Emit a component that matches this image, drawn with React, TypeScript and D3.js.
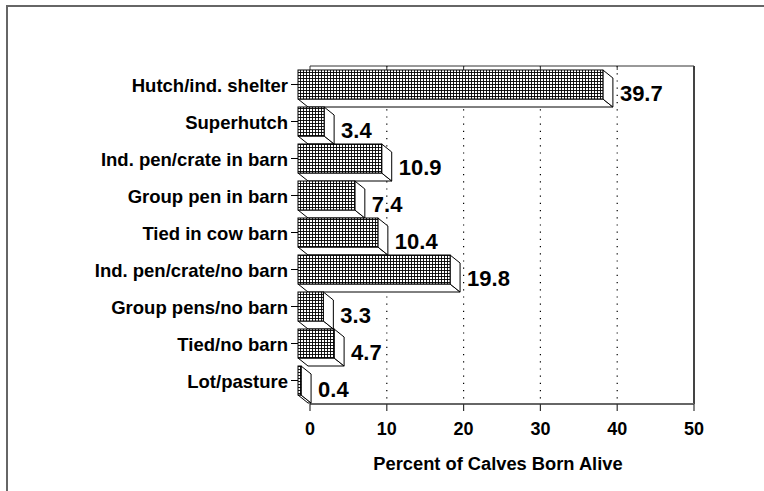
import * as d3 from 'd3';

const categories = [
  'Hutch/ind. shelter',
  'Superhutch',
  'Ind. pen/crate in barn',
  'Group pen in barn',
  'Tied in cow barn',
  'Ind. pen/crate/no barn',
  'Group pens/no barn',
  'Tied/no barn',
  'Lot/pasture',
];
const values = [39.7, 3.4, 10.9, 7.4, 10.4, 19.8, 3.3, 4.7, 0.4];
const xTicks = [0, 10, 20, 30, 40, 50];
const gridTicks = [10, 20, 30, 40];
const axisTitle = 'Percent of Calves Born Alive';

const W = 764;
const H = 491;
const PLOT = { left: 310, right: 694, top: 66, bottom: 404 };
const DX = 10; // depth of the 3d bars
const DY = 8;
const FRONT_SHIFT = -12;
const BAR_H = 29;
const FONT = 'Liberation Sans, Arial, Helvetica, sans-serif';

export default function App() {
  const x = d3.scaleLinear().domain([0, 50]).range([PLOT.left, PLOT.right]);
  const y = d3
    .scalePoint<string>()
    .domain(categories)
    .range([84.5, 380.5]);

  const x0 = x(0) + FRONT_SHIFT;

  return (
    <svg
      width={W}
      height={H}
      style={{ position: 'absolute', left: 0, top: 0, background: '#fff' }}
      fontFamily={FONT}
    >
      <defs>
        <pattern id="grid" width={3} height={3} patternUnits="userSpaceOnUse">
          <rect width={3} height={3} fill="#fff" />
          <path d="M0,0.5H3M0.5,0V3" stroke="#000" strokeWidth={0.9} />
        </pattern>
      </defs>

      {/* outer frame */}
      <rect x={7} y={6} width={W + 20} height={H + 20} fill="none" stroke="#666" strokeWidth={2} />

      {/* plot frame */}
      <line x1={PLOT.left} x2={PLOT.right} y1={PLOT.top} y2={PLOT.top} stroke="#333" strokeWidth={1} />
      <line x1={PLOT.right} x2={PLOT.right} y1={PLOT.top} y2={PLOT.bottom} stroke="#444" strokeWidth={2} />
      <line x1={PLOT.left} x2={PLOT.right} y1={PLOT.bottom} y2={PLOT.bottom} stroke="#666" strokeWidth={2} />

      {/* grid */}
      {gridTicks.map((t) => (
        <line
          key={`g${t}`}
          x1={x(t)}
          x2={x(t)}
          y1={PLOT.top}
          y2={PLOT.bottom}
          stroke="#000"
          strokeWidth={1.2}
          strokeDasharray="1.2,6"
        />
      ))}

      {/* top and bottom ticks */}
      {xTicks.map((t) => (
        <g key={`t${t}`}>
          <line x1={x(t)} x2={x(t)} y1={PLOT.top} y2={PLOT.top + 4} stroke="#333" />
          <line x1={x(t)} x2={x(t)} y1={PLOT.bottom} y2={PLOT.bottom + 7} stroke="#333" strokeWidth={1.2} />
          <text
            x={x(t)}
            y={435}
            textAnchor="middle"
            fontSize={18}
            fontWeight="bold"
          >
            {t}
          </text>
        </g>
      ))}

      <text
        x={(PLOT.left + PLOT.right) / 2 - 4}
        y={470}
        textAnchor="middle"
        fontSize={18.3}
        fontWeight="bold"
      >
        {axisTitle}
      </text>

      {/* bars */}
      {categories.map((c, i) => {
        const v = values[i];
        const cy = y(c) ?? 0;
        const top = cy - BAR_H / 2;
        const bot = top + BAR_H;
        const x1 = x(v) + FRONT_SHIFT;
        const side = `M${x1},${top}L${x1 + DX},${top + DY}L${x1 + DX},${bot + DY}L${x1},${bot}Z`;
        const under = `M${x0},${bot}L${x1},${bot}L${x1 + DX},${bot + DY}L${x0 + DX},${bot + DY}Z`;
        return (
          <g key={c}>
            <path d={under} fill="#fff" stroke="#000" strokeWidth={1} />
            <path d={side} fill="#fff" stroke="#000" strokeWidth={1} />
            <rect
              x={x0}
              y={top}
              width={x1 - x0}
              height={BAR_H}
              fill="url(#grid)"
              stroke="#000"
              strokeWidth={1}
            />
            <line x1={x0 - 7} x2={x0} y1={cy} y2={cy} stroke="#000" />
            <text
              x={x0 - 10}
              y={cy + 7}
              textAnchor="end"
              fontSize={18.5}
              fontWeight="bold"
            >
              {c}
            </text>
            <text
              x={x1 + DX + 7}
              y={cy + DY + 8}
              fontSize={22}
              fontWeight="bold"
            >
              {v.toFixed(1)}
            </text>
          </g>
        );
      })}
    </svg>
  );
}
